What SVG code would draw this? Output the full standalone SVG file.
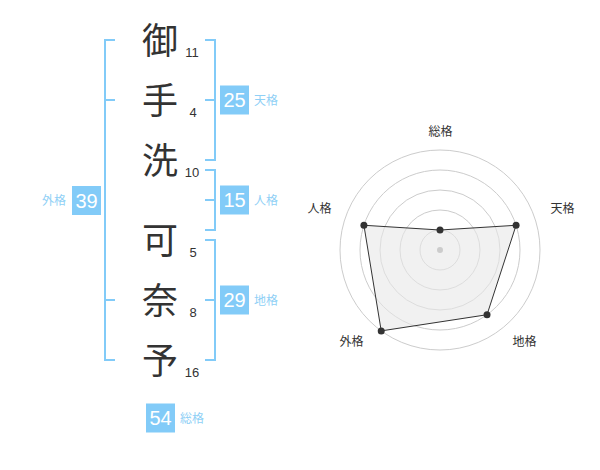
<svg xmlns="http://www.w3.org/2000/svg" width="600" height="470" viewBox="0 0 600 470">
<style>
.br{stroke:#82cbf8;stroke-width:2;fill:none}
.ch{font-family:"Noto Sans CJK JP","Noto Sans CJK SC",sans-serif;font-size:36px;fill:#333;text-anchor:middle}
.num{font-family:"Liberation Sans",Arial,sans-serif;font-size:13px;fill:#333;text-anchor:middle}
.box{fill:#82cbf8}
.bt{font-family:"Liberation Sans",Arial,sans-serif;font-size:20px;fill:#fff;text-anchor:middle}
.lb{font-family:"Noto Sans CJK JP","Noto Sans CJK SC",sans-serif;font-size:12px;fill:#8fd0f6}
.rl{font-family:"Noto Sans CJK JP","Noto Sans CJK SC",sans-serif;font-size:12px;fill:#333;text-anchor:middle}
.ring{fill:none;stroke:#ccc;stroke-width:1}
.pt{fill:#333}
</style>
<rect width="600" height="470" fill="#fff"/>
<g id="connectors">
<path class="br" d="M115,40H105V360H115M105,100H115M105,300H115"/>
<path class="br" d="M205,40H215V160H205M215,100H205"/>
<path class="br" d="M205,170H215V230H205M215,200H205"/>
<path class="br" d="M205,240H215V360H205M215,300H205"/>
</g>
<g id="char1"><text class="ch" x="160" y="54">御</text><text class="num" x="192" y="57">11</text></g>
<g id="char2"><text class="ch" x="160" y="114">手</text><text class="num" x="193" y="117">4</text></g>
<g id="char3"><text class="ch" x="160" y="174">洗</text><text class="num" x="192" y="177">10</text></g>
<g id="char4"><text class="ch" x="160" y="254">可</text><text class="num" x="193" y="257">5</text></g>
<g id="char5"><text class="ch" x="160" y="314">奈</text><text class="num" x="193" y="317">8</text></g>
<g id="char6"><text class="ch" x="160" y="374">予</text><text class="num" x="192" y="377">16</text></g>
<g id="tenkaku"><rect class="box" x="220" y="85.5" width="29" height="29"/><text class="bt" x="234.5" y="107.2">25</text><text class="lb" x="254" y="104.5">天格</text></g>
<g id="jinkaku"><rect class="box" x="220" y="185.5" width="29" height="29"/><text class="bt" x="234.5" y="207.2">15</text><text class="lb" x="254" y="204.5">人格</text></g>
<g id="chikaku"><rect class="box" x="220" y="285.5" width="29" height="29"/><text class="bt" x="234.5" y="307.2">29</text><text class="lb" x="254" y="304.5">地格</text></g>
<g id="gaikaku"><rect class="box" x="72" y="186" width="29" height="29"/><text class="bt" x="86.5" y="207.7">39</text><text class="lb" x="66" y="205" text-anchor="end">外格</text></g>
<g id="soukaku"><rect class="box" x="146" y="403.5" width="29" height="29"/><text class="bt" x="160.5" y="425.2">54</text><text class="lb" x="180" y="422.5">総格</text></g>
<g id="radar">
<circle class="ring" cx="440" cy="250" r="20"/>
<circle class="ring" cx="440" cy="250" r="40"/>
<circle class="ring" cx="440" cy="250" r="60"/>
<circle class="ring" cx="440" cy="250" r="80"/>
<circle class="ring" cx="440" cy="250" r="100"/>
<polygon points="440,230 516.08,225.28 487.02,314.72 381.22,330.9 363.92,225.28" fill="#e8e8e8" fill-opacity="0.6" stroke="#333" stroke-width="1"/>
<circle cx="440" cy="250" r="3" fill="#ccc"/>
<circle class="pt" cx="440" cy="230" r="3.5"/>
<circle class="pt" cx="516.08" cy="225.28" r="3.5"/>
<circle class="pt" cx="487.02" cy="314.72" r="3.5"/>
<circle class="pt" cx="381.22" cy="330.9" r="3.5"/>
<circle class="pt" cx="363.92" cy="225.28" r="3.5"/>
<text class="rl" x="440.5" y="135.5">総格</text>
<text class="rl" x="562.5" y="212.5">天格</text>
<text class="rl" x="319.5" y="212.5">人格</text>
<text class="rl" x="351.5" y="346">外格</text>
<text class="rl" x="524.5" y="346">地格</text>
</g>
</svg>
